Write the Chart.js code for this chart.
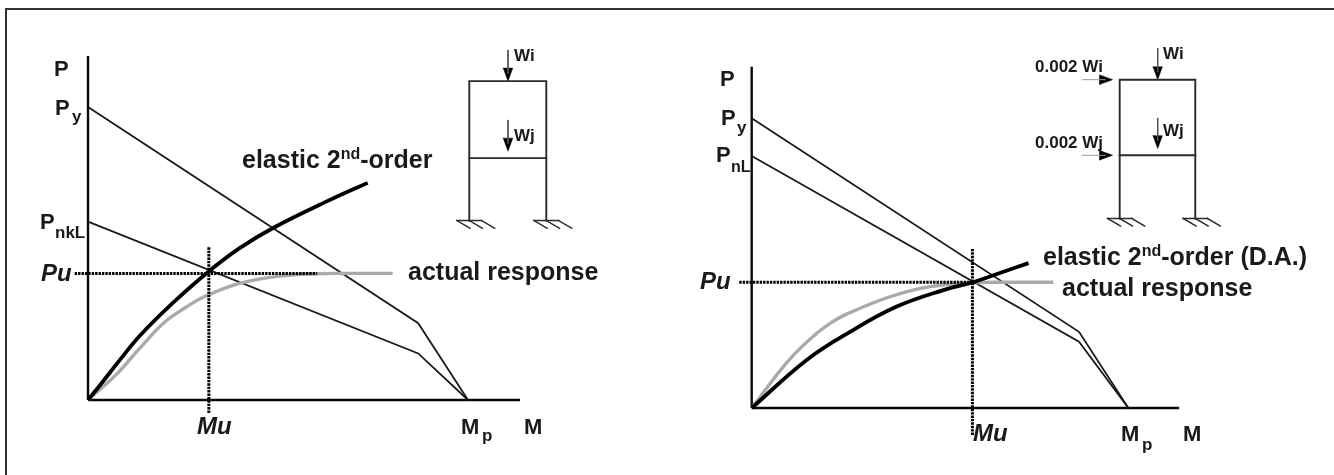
<!DOCTYPE html>
<html>
<head>
<meta charset="utf-8">
<script src="https://cdn.jsdelivr.net/npm/chart.js@4/dist/chart.umd.min.js"></script>
<style>
  html, body { margin: 0; background: #fff; overflow: hidden; }
  #page { position: relative; width: 1334px; height: 475px; }
  #outline { position: absolute; left: 5px; top: 8px; width: 1327px; height: 480px; border: 2px solid #333; }
  canvas { position: absolute; top: 0; filter: blur(0.4px); }
  #left-chart { left: 0; }
  #right-chart { left: 667px; }
</style>
</head>
<body>
<div id="page">
  <div id="outline"></div>
  <canvas id="left-chart" width="667" height="475"></canvas>
  <canvas id="right-chart" width="667" height="475"></canvas>
</div>
<script>
// Left panel, M and P in % of Mp and Py
const leftPyM = [0, 86.9, 100];
const leftPyP = [100, 26.2, 0];
const leftPnM = [0, 86.9, 100];
const leftPnP = [60.9, 15.9, 0];
const leftElasticM = [0, 3.2, 8.4, 13.7, 22.4, 31.6, 40, 48.7, 63.7, 73.6];
const leftElasticP = [0, 5.1, 13.7, 22, 33.2, 43.7, 51.9, 58.7, 68.3, 74.1];
const leftActualM = [0, 7.6, 13.7, 20.2, 25.5, 30.7, 39.9, 51.3, 60.3, 68, 80.2];
const leftActualP = [0, 8.9, 17.8, 26.6, 31.4, 35.3, 39.8, 42.4, 43.1, 43.2, 43.2];
const leftPu = 43.2;
const leftMu = 31.8;

// Right panel
const rightPyM = [0, 86.9, 100];
const rightPyP = [100, 26.3, 0];
const rightPnM = [0, 86.9, 100];
const rightPnP = [87, 22.9, 0];
const rightElasticM = [0, 14.6, 26.1, 38.5, 50.9, 58.8, 65.9, 73.5];
const rightElasticP = [0, 16.6, 26.3, 35, 40.7, 43.4, 46.6, 50];
const rightActualM = [0, 8.4, 12.8, 17.3, 20.8, 25.2, 36.7, 47.3, 58.8, 66, 80.1];
const rightActualP = [0, 14.3, 20.5, 25.8, 29.2, 32.4, 38.4, 41.9, 43.2, 43.4, 43.4];
const rightPu = 43.4;
const rightMu = 58.6;

// Frame sketches, in bay widths from the foot of the left column
const leftFrameH = [0, 0.81, 1.81];
const rightFrameH = [0, 0.836, 1.836];

const leftLabels = [
  { text: 'P', x: 54, y: 76, size: 22 },
  { text: 'P', x: 55, y: 115, size: 22 },
  { text: 'y', x: 72, y: 122, size: 17 },
  { text: 'P', x: 40, y: 229, size: 22 },
  { text: 'nkL', x: 55, y: 238, size: 17 },
  { text: 'Pu', x: 41, y: 281, size: 24, italic: true },
  { text: 'Mu', x: 197, y: 434, size: 24, italic: true },
  { text: 'M', x: 461, y: 434, size: 22 },
  { text: 'p', x: 482, y: 441, size: 17 },
  { text: 'M', x: 524, y: 434, size: 22 },
  { text: 'elastic 2', x: 242, y: 168, size: 25 },
  { text: 'nd', after: true, y: 159, size: 16 },
  { text: '-order', after: true, y: 168, size: 25 },
  { text: 'actual response', x: 408, y: 280, size: 25 },
  { text: 'Wi', x: 514, y: 61, size: 17 },
  { text: 'Wj', x: 514, y: 141, size: 17 }
];

const rightLabels = [
  { text: 'P', x: 53, y: 86, size: 22 },
  { text: 'P', x: 54, y: 125, size: 22 },
  { text: 'y', x: 70, y: 133, size: 17 },
  { text: 'P', x: 49, y: 162, size: 22 },
  { text: 'nL', x: 64, y: 172, size: 16 },
  { text: 'Pu', x: 33, y: 289, size: 24, italic: true },
  { text: 'Mu', x: 306, y: 441, size: 24, italic: true },
  { text: 'M', x: 454, y: 441, size: 22 },
  { text: 'p', x: 475, y: 450, size: 17 },
  { text: 'M', x: 516, y: 441, size: 22 },
  { text: 'elastic 2', x: 376, y: 265, size: 25 },
  { text: 'nd', after: true, y: 256, size: 16 },
  { text: '-order (D.A.)', after: true, y: 265, size: 25 },
  { text: 'actual response', x: 395, y: 296, size: 25 },
  { text: '0.002 Wi', x: 368, y: 72, size: 17 },
  { text: '0.002 Wj', x: 368, y: 148, size: 17 },
  { text: 'Wi', x: 496, y: 59, size: 17 },
  { text: 'Wj', x: 496, y: 136, size: 17 }
];

function zip(xs, ys) {
  return xs.map((x, i) => ({ x: x, y: ys[i] }));
}

function line(points, width, color, extra) {
  return Object.assign({
    data: points,
    showLine: true,
    pointRadius: 0,
    borderWidth: width,
    borderColor: color,
    backgroundColor: color
  }, extra);
}

function curve(points, width, color) {
  return line(points, width, color, { tension: 0.4 });
}

// line drawn against the frame scales
function sketch(points, width, color) {
  return line(points, width, color, { xAxisID: 'fx', yAxisID: 'fy', borderCapStyle: 'square' });
}

function head(tip, dx, dy) {
  // triangle pointing at tip, coming from direction (dx, dy)
  const base = { x: tip.x + dx, y: tip.y + dy };
  const w = 0.062;
  const a = dx === 0 ? { x: base.x - w, y: base.y } : { x: base.x, y: base.y - w };
  const b = dx === 0 ? { x: base.x + w, y: base.y } : { x: base.x, y: base.y + w };
  return sketch([a, tip, b, a], 0.5, '#000');
}

function frameSets(h, dropX, top, mid, side) {
  const sets = [];
  const steel = '#2a2a2a';
  sets.push(sketch(zip([0, 0, 1, 1], [h[0], h[2], h[2], h[0]]), 1.9, steel));
  sets.push(sketch(zip([0, 1], [h[1], h[1]]), 1.9, steel));

  // fixed feet
  [0, 1].forEach(foot => {
    sets.push(sketch(zip([foot - 0.16, foot + 0.16], [0, 0]), 1.5, steel));
    [-0.16, 0, 0.16].forEach(s => {
      sets.push(sketch(zip([foot + s, foot + s + 0.17], [0, -0.1]), 1.5, steel));
    });
  });

  // gravity loads
  [[top, h[2]], [mid, h[1] + 0.09]].forEach(load => {
    const tip = { x: dropX, y: load[1] };
    sets.push(sketch(zip([dropX, dropX], [load[0], load[1] + 0.1]), 1, '#555'));
    sets.push(Object.assign(head(tip, 0, 0.17), { fill: 'shape' }));
  });

  // lateral loads
  if (side) {
    [h[2], h[1]].forEach(level => {
      const tip = { x: side[1], y: level };
      sets.push(sketch(zip([side[0], side[1] - 0.1], [level, level]), 1, '#999'));
      sets.push(Object.assign(head(tip, -0.17, 0), { fill: 'shape' }));
    });
  }
  return sets;
}

const labelPlugin = {
  id: 'labels',
  afterDraw(chart, args, opts) {
    const ctx = chart.ctx;
    let cursor = 0;
    ctx.save();
    ctx.fillStyle = '#1a1a1a';
    ctx.textBaseline = 'alphabetic';
    opts.items.forEach(item => {
      ctx.font = (item.italic ? 'italic ' : '') + 'bold ' + item.size + 'px "Liberation Sans"';
      const x = item.after ? cursor : item.x;
      ctx.fillText(item.text, x, item.y);
      cursor = x + ctx.measureText(item.text).width;
    });
    ctx.restore();
  }
};

function panel(id, d) {
  const hidden = (min, max) => ({ type: 'linear', display: false, min: min, max: max });
  const pu = d.pu;
  const mu = d.mu;
  const dots = { borderDash: [2.4, 1] };
  new Chart(document.getElementById(id), {
    type: 'scatter',
    data: {
      datasets: [
        line(zip(d.puRange, [pu, pu]), 3, '#000', dots),
        line(zip([mu, mu], d.muRange), 3, '#000', dots),
        curve(zip(d.elasticM, d.elasticP), 3.8, '#000'),
        curve(zip(d.actualM, d.actualP), 3.4, '#aaa'),
        line(zip(d.pyM, d.pyP), 1.8, '#1a1a1a'),
        line(zip(d.pnM, d.pnP), 1.8, '#1a1a1a'),
        line(zip([0, 0], [0, d.pTop]), 2.4, '#0a0a0a'),
        line(zip([0, d.mEnd], [0, 0]), 2.4, '#0a0a0a')
      ].concat(d.frame)
    },
    options: {
      responsive: false,
      animation: false,
      layout: { padding: 0 },
      scales: {
        x: hidden(d.x[0], d.x[1]),
        y: hidden(d.y[0], d.y[1]),
        fx: hidden(d.fx[0], d.fx[1]),
        fy: hidden(d.fy[0], d.fy[1])
      },
      plugins: {
        legend: { display: false },
        tooltip: { enabled: false },
        labels: { items: d.labels }
      }
    },
    plugins: [labelPlugin]
  });
}

panel('left-chart', {
  pyM: leftPyM, pyP: leftPyP, pnM: leftPnM, pnP: leftPnP,
  elasticM: leftElasticM, elasticP: leftElasticP,
  actualM: leftActualM, actualP: leftActualP,
  pu: leftPu, mu: leftMu,
  puRange: [-3.5, 60.3], muRange: [-4.4, 52.3],
  pTop: 117.4, mEnd: 113.7,
  x: [-23.16, 152.37], y: [-25.6, 136.52],
  fx: [-6.095, 2.568], fy: [-3.305, 2.864],
  frame: frameSets(leftFrameH, 0.503, 2.214, 1.305, null),
  labels: leftLabels
});

panel('right-chart', {
  pyM: rightPyM, pyP: rightPyP, pnM: rightPnM, pnP: rightPnP,
  elasticM: rightElasticM, elasticP: rightElasticP,
  actualM: rightActualM, actualP: rightActualP,
  pu: rightPu, mu: rightMu,
  puRange: [-3.3, 60], muRange: [-9.3, 54.9],
  pTop: 117.8, mEnd: 113.5,
  x: [-22.49, 154.6], y: [-23.13, 140.84],
  fx: [-5.988, 2.835], fy: [-3.393, 2.89],
  frame: frameSets(rightFrameH, 0.503, 2.255, 1.329, [-0.495, -0.093]),
  labels: rightLabels
});
</script>
</body>
</html>
